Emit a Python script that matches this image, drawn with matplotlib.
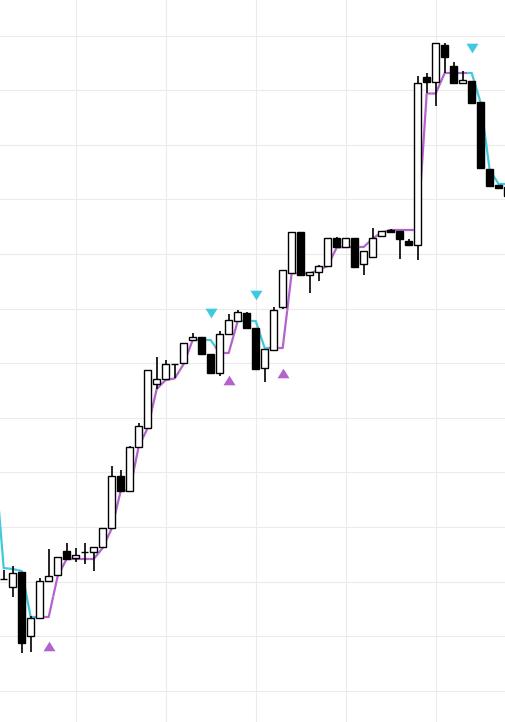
import numpy as np
import matplotlib
matplotlib.use('Agg')
import matplotlib.pyplot as plt
from matplotlib.path import Path

# candle data (index 0..56)
opens = [114.3, 113.5, 115.0, 108.6, 110.4, 114.1, 114.7, 117.1, 116.4, 117.0,
         117.0, 117.5, 119.4, 124.6, 123.1, 127.5, 129.4, 133.8, 134.3, 135.8,
         135.9, 138.2, 138.5, 136.8, 134.9, 138.8, 140.1, 140.9, 139.4, 135.4,
         137.2, 141.5, 144.9, 149.0, 144.7, 145.0, 145.6, 148.4, 147.5, 148.4,
         145.8, 146.5, 148.6, 149.2, 149.1, 148.1, 147.7, 164.5, 164.0, 167.7,
         165.6, 163.9, 164.1, 162.0, 155.3, 153.7, 152.6]
highs = [115.2, 115.6, 115.0, 110.6, 114.4, 117.3, 116.5, 117.9, 117.4, 117.9,
         117.5, 119.4, 125.6, 125.2, 127.6, 129.9, 135.2, 136.5, 136.2, 135.8,
         137.9, 138.9, 138.5, 136.8, 139.1, 140.8, 141.2, 141.0, 139.4, 137.3,
         141.5, 145.2, 149.0, 149.0, 145.0, 145.7, 148.4, 148.5, 148.4, 148.4,
         147.1, 149.4, 149.1, 149.3, 149.1, 148.3, 164.6, 164.9, 167.9, 167.9,
         166.0, 165.1, 164.1, 162.0, 155.3, 153.7, 153.5]
lows = [114.2, 112.5, 106.9, 107.0, 110.3, 114.1, 114.7, 116.3, 116.0, 115.8,
        115.1, 117.5, 119.4, 123.1, 123.1, 127.5, 129.3, 133.3, 134.3, 134.4,
        135.9, 138.2, 136.8, 134.9, 134.6, 138.8, 140.1, 139.3, 135.2, 134.0,
        137.2, 141.3, 144.9, 144.6, 142.9, 144.1, 145.6, 147.5, 147.5, 145.5,
        144.7, 146.5, 148.6, 149.0, 146.3, 147.7, 146.2, 162.9, 161.6, 164.9,
        163.9, 163.9, 161.9, 155.3, 153.6, 153.4, 152.0]
closes = [114.3, 114.9, 107.9, 110.4, 114.1, 114.6, 116.5, 116.3, 116.7, 117.0,
          117.5, 119.4, 124.6, 123.1, 127.5, 129.6, 135.2, 134.3, 135.8, 135.8,
          137.9, 138.5, 136.8, 134.9, 138.8, 140.2, 141.0, 139.4, 135.3, 137.3,
          141.2, 145.2, 149.0, 144.7, 145.0, 145.6, 148.4, 147.5, 148.4, 145.5,
          147.1, 148.4, 149.1, 149.0, 148.3, 147.7, 163.9, 164.0, 167.9, 166.5,
          163.9, 164.2, 161.9, 155.4, 153.6, 153.4, 153.5]

# supertrend line, index -1..56
st_values = [126.4, 115.4, 115.3, 115.1, 110.5, 110.5, 110.5, 114.6, 116.3, 116.3,
             116.3, 116.3, 117.4, 119.35, 123.1, 123.15, 127.55, 129.4, 133.3, 134.2,
             134.35, 135.8, 138.2, 138.2, 138.2, 136.9, 136.9, 140.1, 140.1, 140.1,
             137.4, 137.4, 137.4, 144.9, 144.85, 144.85, 145.2, 145.6, 147.45, 147.5,
             147.5, 147.5, 148.35, 148.95, 149.2, 149.2, 149.2, 149.2, 162.85, 162.85,
             164.9, 164.9, 164.9, 164.9, 161.9, 155.2, 153.8, 153.8]
# 1 = up (purple), -1 = down (cyan)
st_trend = [-1, -1, -1, -1, -1, 1, 1, 1, 1, 1,
            1, 1, 1, 1, 1, 1, 1, 1, 1, 1,
            1, 1, 1, -1, -1, 1, 1, 1, -1, -1,
            -1, 1, 1, 1, 1, 1, 1, 1, 1, 1,
            1, 1, 1, 1, 1, 1, 1, 1, 1, 1,
            1, 1, 1, -1, -1, -1, -1, -1]

buy_idx = [5, 25, 31]
buy_y = [107.6, 134.2, 134.9]
sell_idx = [23, 28, 52]
sell_y = [140.9, 142.7, 167.4]

up_col = '#b264cc'
dn_col = '#3fc9dd'

fig = plt.figure(figsize=(5.05, 7.22), dpi=100)
ax = fig.add_axes([0, 0, 1, 1])

# supertrend, colour switches halfway between points
sx = np.arange(-1, len(st_values) - 1)
sv = np.array(st_values)
for k in range(len(sv)):
    col = up_col if st_trend[k] == 1 else dn_col
    xs, ys = [sx[k]], [sv[k]]
    if k > 0:
        xs.insert(0, (sx[k] + sx[k - 1]) / 2)
        ys.insert(0, (sv[k] + sv[k - 1]) / 2)
    if k < len(sv) - 1:
        xs.append((sx[k] + sx[k + 1]) / 2)
        ys.append((sv[k] + sv[k + 1]) / 2)
    ax.plot(xs, ys, color=col, lw=1.6, solid_capstyle='butt', zorder=2)

# candles
x = np.arange(len(opens))
o = np.array(opens)
c = np.array(closes)
ax.vlines(x, lows, highs, color='black', lw=1.2, zorder=3)
fill = ['white' if cc >= oo else 'black' for oo, cc in zip(o, c)]
ax.bar(x, c - o, bottom=o, width=0.72, color=fill, edgecolor='black',
       linewidth=1.0, zorder=4)

# signal triangles
up_tri = Path([(-0.5, -0.4), (0.5, -0.4), (0, 0.4), (-0.5, -0.4)],
              [Path.MOVETO, Path.LINETO, Path.LINETO, Path.CLOSEPOLY])
dn_tri = Path([(-0.5, 0.4), (0.5, 0.4), (0, -0.4), (-0.5, 0.4)],
              [Path.MOVETO, Path.LINETO, Path.LINETO, Path.CLOSEPOLY])
ax.scatter(buy_idx, buy_y, marker=up_tri, s=75, color=up_col, lw=0, zorder=5)
ax.scatter(sell_idx, sell_y, marker=dn_tri, s=75, color=dn_col, lw=0, zorder=5)

ax.set_xlim(-0.41, 55.7)
ax.set_ylim(100, 172.2)
ax.set_xticks(np.arange(8, 56, 10))
ax.set_yticks(np.arange(103.13, 170, 5.46))
ax.grid(True, color='#ebebeb', lw=0.8)
ax.set_axisbelow(True)
ax.tick_params(length=0, labelbottom=False, labelleft=False)
for s in ax.spines.values():
    s.set_visible(False)

fig.savefig('out.png', dpi=100)
